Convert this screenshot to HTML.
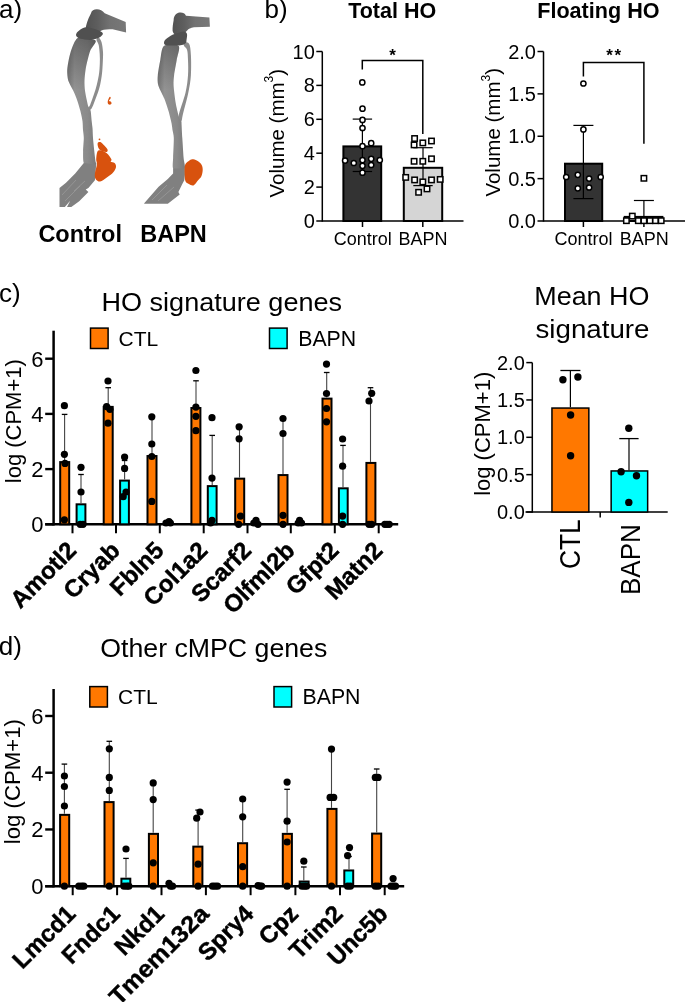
<!DOCTYPE html><html><head><meta charset="utf-8"><style>html,body{margin:0;padding:0;background:#fff;}svg{display:block;will-change:transform;}</style></head><body>
<svg width="685" height="1002" viewBox="0 0 685 1002" font-family='"Liberation Sans", sans-serif' fill="#000">
<rect width="685" height="1002" fill="#fff"/>
<text x="-1.0" y="18.3" font-size="26" text-anchor="start" font-weight="normal" >a)</text>
<defs>
<linearGradient id="tib" x1="0" y1="0" x2="1" y2="0"><stop offset="0" stop-color="#767676"/><stop offset="0.25" stop-color="#939393"/><stop offset="0.7" stop-color="#8a8a8a"/><stop offset="1" stop-color="#7a7a7a"/></linearGradient>
<linearGradient id="fem" x1="0" y1="0" x2="1" y2="0"><stop offset="0" stop-color="#525252"/><stop offset="0.3" stop-color="#5e5e5e"/><stop offset="0.6" stop-color="#727272"/><stop offset="1" stop-color="#787878"/></linearGradient>
<linearGradient id="tibv" gradientUnits="userSpaceOnUse" x1="0" y1="38" x2="0" y2="90"><stop offset="0" stop-color="#000" stop-opacity="0.28"/><stop offset="1" stop-color="#000" stop-opacity="0"/></linearGradient>
</defs>
<path d="M98.3,37.3 C99.1,37.6 100.7,39.5 101.5,42.0 C102.3,44.5 102.8,48.7 103.0,52.0 C103.2,55.3 103.0,58.1 102.8,62.0 C102.6,65.9 102.4,70.9 101.8,75.3 C101.2,79.7 100.5,84.0 99.2,88.6 C97.9,93.2 95.4,99.4 94.0,102.9 C92.6,106.4 91.7,108.7 90.7,109.5 C89.7,110.3 88.3,108.8 88.2,108.0 C88.1,107.2 89.0,107.7 90.3,104.5 C91.6,101.3 94.4,93.5 95.8,88.6 C97.2,83.7 98.1,79.4 98.8,75.3 C99.5,71.2 99.6,67.5 99.8,64.0 C100.0,60.5 99.9,57.2 99.7,54.0 C99.5,50.8 99.2,47.3 98.7,45.0 C98.2,42.7 96.6,41.3 96.5,40.0 C96.4,38.7 97.5,37.0 98.3,37.3 Z" fill="#8c8c8c"/>
<path d="M78.4,37.8 C75.3,38.8 73.3,45.0 72.0,48.0 C70.7,51.0 69.3,57.0 68.7,60.0 C68.1,63.0 67.3,67.5 67.2,70.2 C67.1,72.9 67.4,77.7 68.2,80.4 C69.0,83.1 72.1,88.0 73.3,90.7 C74.5,93.4 76.5,98.2 77.4,100.9 C78.3,103.6 79.7,108.4 80.4,111.1 C81.1,113.8 82.2,118.8 82.5,121.3 C82.8,123.8 82.8,127.8 83.0,130.0 C83.2,132.2 83.8,135.2 83.8,138.0 C83.8,140.8 83.1,148.0 83.1,151.3 C83.1,154.6 82.9,160.9 83.8,163.1 C84.7,165.3 88.3,167.8 90.0,168.0 C91.7,168.2 95.5,165.2 96.2,164.4 C96.9,163.6 95.9,163.5 95.6,161.8 C95.3,160.1 94.6,154.5 94.3,151.3 C94.0,148.1 93.2,141.2 93.0,138.1 C92.8,135.0 92.7,130.2 92.5,128.0 C92.3,125.8 91.9,123.6 91.7,121.3 C91.5,119.0 91.0,112.9 90.7,111.1 C90.4,109.3 89.5,109.0 89.1,108.0 C88.7,107.0 88.1,106.2 87.6,103.9 C87.1,101.6 85.4,93.8 85.0,90.7 C84.6,87.6 84.4,83.1 84.5,80.4 C84.6,77.7 85.1,72.9 85.5,70.2 C85.9,67.5 86.9,62.7 87.6,60.0 C88.3,57.3 89.4,52.6 90.5,50.0 C91.6,47.4 97.1,42.1 95.5,40.5 C93.9,38.9 81.5,36.8 78.4,37.8 Z" fill="url(#tib)"/>
<path d="M78.4,37.8 C75.3,38.8 73.3,45.0 72.0,48.0 C70.7,51.0 69.3,57.0 68.7,60.0 C68.1,63.0 67.3,67.5 67.2,70.2 C67.1,72.9 67.4,77.7 68.2,80.4 C69.0,83.1 72.1,88.0 73.3,90.7 C74.5,93.4 76.5,98.2 77.4,100.9 C78.3,103.6 79.7,108.4 80.4,111.1 C81.1,113.8 82.2,118.8 82.5,121.3 C82.8,123.8 82.8,127.8 83.0,130.0 C83.2,132.2 83.8,135.2 83.8,138.0 C83.8,140.8 83.1,148.0 83.1,151.3 C83.1,154.6 82.9,160.9 83.8,163.1 C84.7,165.3 88.3,167.8 90.0,168.0 C91.7,168.2 95.5,165.2 96.2,164.4 C96.9,163.6 95.9,163.5 95.6,161.8 C95.3,160.1 94.6,154.5 94.3,151.3 C94.0,148.1 93.2,141.2 93.0,138.1 C92.8,135.0 92.7,130.2 92.5,128.0 C92.3,125.8 91.9,123.6 91.7,121.3 C91.5,119.0 91.0,112.9 90.7,111.1 C90.4,109.3 89.5,109.0 89.1,108.0 C88.7,107.0 88.1,106.2 87.6,103.9 C87.1,101.6 85.4,93.8 85.0,90.7 C84.6,87.6 84.4,83.1 84.5,80.4 C84.6,77.7 85.1,72.9 85.5,70.2 C85.9,67.5 86.9,62.7 87.6,60.0 C88.3,57.3 89.4,52.6 90.5,50.0 C91.6,47.4 97.1,42.1 95.5,40.5 C93.9,38.9 81.5,36.8 78.4,37.8 Z" fill="url(#tibv)"/>
<path d="M83.8,163.1 L75.2,173.6 L66.0,182.8 L60.1,187.4 L59.5,188.1 L59.5,207.1 L71.3,207.1 L79.2,201.2 L88.4,192.0 L85.7,189.4 L88.4,188.1 L94.9,180.2 L96.2,164.4 Z" fill="#808080"/>
<path d="M64.2,207.8 L70.2,200.8 L66.6,207.8 Z" fill="#fff"/>
<path d="M62,195 L76,180 M65,201 L80,186 M74,191 L85,181" stroke="#999" stroke-width="0.8" fill="none"/>
<path d="M90.9,13.5 C91.5,10.5 94,9.2 96.8,9.2 C100,9.2 102.5,10.5 104.7,13.3 L125.7,22.1 L126.1,32.6 L112.6,29.3 C108,29.4 104,29.6 102.1,30.2 L99.5,31.5 C96,31.5 90,31 85.5,29.5 C86,25 87.5,20 90.9,13.5 Z" fill="url(#fem)"/>
<path d="M76.3,33.7 C76.9,32.5 78.8,30.7 80.4,29.6 C82.0,28.5 84.1,27.4 86.0,27.2 C87.9,27.0 89.8,27.6 92.0,28.2 C94.2,28.8 97.2,29.6 99.0,30.5 C100.8,31.4 102.9,32.5 102.9,33.7 C102.9,34.9 100.8,36.8 98.8,37.8 C96.8,38.8 93.8,39.7 90.7,39.9 C87.6,40.1 82.7,39.3 80.4,38.8 C78.1,38.3 77.6,37.6 76.9,36.8 C76.2,35.9 75.7,34.9 76.3,33.7 Z" fill="#505050"/>
<path d="M97.6,151.3 C98.5,149.9 100.0,150.3 101.5,150.6 C103.0,150.9 105.1,151.8 106.8,153.2 C108.5,154.6 110.8,157.8 111.4,159.2 C112.1,160.6 110.2,161.2 110.7,161.8 C111.2,162.5 113.7,162.2 114.6,163.1 C115.5,164.0 116.2,165.5 116.0,167.0 C115.8,168.5 114.8,170.5 113.3,172.3 C111.8,174.1 109.0,176.1 106.8,177.6 C104.6,179.1 102.1,181.3 100.2,181.5 C98.3,181.7 96.5,180.2 95.6,178.9 C94.7,177.6 94.7,176.0 94.9,173.6 C95.1,171.2 96.7,166.8 96.9,164.4 C97.1,162.0 96.1,161.4 96.2,159.2 C96.3,157.0 96.7,152.7 97.6,151.3 Z" fill="#d8520e"/>
<path d="M97.6,143.4 C97.8,142.3 99.2,141.9 100.2,142.1 C101.2,142.3 102.3,143.5 103.5,144.7 C104.7,145.9 106.9,148.1 107.4,149.3 C108.0,150.5 107.6,151.6 106.8,151.9 C106.0,152.2 104.1,151.8 102.8,151.3 C101.5,150.8 99.8,150.0 98.9,148.7 C98.0,147.4 97.4,144.5 97.6,143.4 Z" fill="#d8520e"/>
<path d="M184.0,42.5 C184.8,42.2 188.0,41.9 189.2,44.0 C190.3,46.1 190.6,49.8 190.9,55.0 C191.2,60.2 191.3,69.0 190.9,75.3 C190.5,81.6 189.6,86.4 188.3,92.7 C187.0,99.0 184.4,108.3 183.2,113.1 C182.0,117.9 182.1,120.8 181.3,121.3 C180.5,121.8 177.8,121.0 178.5,116.2 C179.2,111.4 183.9,99.5 185.5,92.7 C187.1,85.9 187.6,80.8 188.0,75.3 C188.4,69.8 188.2,64.2 188.0,60.0 C187.8,55.8 187.8,52.3 187.1,50.0 C186.4,47.7 184.6,47.2 184.1,46.0 C183.6,44.8 183.2,42.8 184.0,42.5 Z" fill="#8c8c8c"/>
<path d="M163.9,46.0 C161.4,47.9 161.1,56.1 160.3,60.0 C159.5,63.9 158.1,71.9 157.8,75.3 C157.5,78.7 157.4,82.4 158.3,85.5 C159.2,88.6 163.0,95.4 164.4,98.8 C165.8,102.2 167.5,107.8 168.5,111.1 C169.5,114.4 171.1,120.9 171.6,123.4 C172.1,125.9 172.2,128.0 172.5,130.0 C172.8,132.0 173.7,134.4 173.8,138.1 C173.9,141.8 173.2,153.8 173.1,157.8 C173.0,161.8 172.3,166.5 173.1,168.4 C173.9,170.3 177.4,172.0 179.0,172.0 C180.6,172.0 184.3,170.3 184.9,168.4 C185.5,166.5 183.9,161.8 183.6,157.8 C183.3,153.8 182.6,142.5 182.3,138.1 C182.0,133.7 181.7,127.2 181.6,125.0 C181.5,122.8 181.7,122.5 181.3,121.3 C180.9,120.1 179.4,118.7 178.7,116.2 C178.0,113.7 176.4,107.0 175.7,102.9 C175.0,98.8 173.8,89.2 173.6,85.5 C173.4,81.8 173.7,78.7 174.1,75.3 C174.5,71.9 176.1,63.9 176.7,60.0 C177.3,56.1 180.4,47.9 178.7,46.0 C177.0,44.1 166.4,44.1 163.9,46.0 Z" fill="url(#tib)"/>
<path d="M163.9,46.0 C161.4,47.9 161.1,56.1 160.3,60.0 C159.5,63.9 158.1,71.9 157.8,75.3 C157.5,78.7 157.4,82.4 158.3,85.5 C159.2,88.6 163.0,95.4 164.4,98.8 C165.8,102.2 167.5,107.8 168.5,111.1 C169.5,114.4 171.1,120.9 171.6,123.4 C172.1,125.9 172.2,128.0 172.5,130.0 C172.8,132.0 173.7,134.4 173.8,138.1 C173.9,141.8 173.2,153.8 173.1,157.8 C173.0,161.8 172.3,166.5 173.1,168.4 C173.9,170.3 177.4,172.0 179.0,172.0 C180.6,172.0 184.3,170.3 184.9,168.4 C185.5,166.5 183.9,161.8 183.6,157.8 C183.3,153.8 182.6,142.5 182.3,138.1 C182.0,133.7 181.7,127.2 181.6,125.0 C181.5,122.8 181.7,122.5 181.3,121.3 C180.9,120.1 179.4,118.7 178.7,116.2 C178.0,113.7 176.4,107.0 175.7,102.9 C175.0,98.8 173.8,89.2 173.6,85.5 C173.4,81.8 173.7,78.7 174.1,75.3 C174.5,71.9 176.1,63.9 176.7,60.0 C177.3,56.1 180.4,47.9 178.7,46.0 C177.0,44.1 166.4,44.1 163.9,46.0 Z" fill="url(#tibv)"/>
<path d="M173.1,168.4 L173.1,173.6 L167.8,178.9 L158.6,186.8 L144.2,203.2 L144.2,203.8 L167.8,203.8 L179.7,194.6 L178.4,192.0 L182.3,184.1 L184.3,180.2 L184.9,174.9 L184.9,168.4 Z" fill="#808080"/>
<path d="M152,200 L167,185 M158,201 L174,187" stroke="#999" stroke-width="0.8" fill="none"/>
<path d="M173.6,20.4 C173.6,17 175,15 176.5,13.8 C178.5,12.2 182,12.3 183.8,13.3 C185,14 185.6,15 185.9,15.8 L209.4,17.6 L209.9,26.8 L194,27.3 C190.5,28 188.5,29 187.9,29.8 L183.8,34 L175.7,35 C174,34 172.8,32.5 172.6,30.7 C172.5,27 173,23.5 173.6,20.4 Z" fill="url(#fem)"/>
<path d="M164.4,40.9 C164.9,39.6 167.1,38.4 168.5,37.3 C169.9,36.2 171.4,35.2 173.0,34.5 C174.6,33.8 176.2,33.5 178.0,33.0 C179.8,32.5 182.5,31.3 184.0,31.5 C185.5,31.7 186.6,32.6 187.0,34.0 C187.4,35.4 186.7,38.5 186.5,40.0 C186.3,41.5 186.7,42.1 185.9,42.9 C185.1,43.7 183.5,44.6 181.8,45.0 C180.1,45.4 178.4,45.5 175.7,45.5 C173.0,45.5 167.3,45.8 165.4,45.0 C163.5,44.2 163.9,42.2 164.4,40.9 Z" fill="#505050"/>
<path d="M184.9,165.7 C185.4,163.5 186.5,162.9 187.6,161.8 C188.7,160.8 190.0,159.6 191.5,159.4 C193.0,159.2 195.2,159.7 196.8,160.5 C198.5,161.3 200.4,162.9 201.4,164.4 C202.4,165.9 202.7,167.7 202.7,169.7 C202.7,171.7 202.2,174.4 201.4,176.2 C200.6,177.9 199.4,178.7 198.1,180.2 C196.8,181.7 195.0,184.8 193.5,185.4 C192.0,186.1 190.2,184.8 188.9,184.1 C187.6,183.4 186.3,183.0 185.6,181.5 C184.9,180.0 184.8,177.5 184.7,174.9 C184.6,172.3 184.4,167.9 184.9,165.7 Z" fill="#d8520e"/>
<circle cx="99.5" cy="139.3" r="0.9" fill="#d8520e"/>
<path d="M109.9,96.7 C111,96.8 110.9,98.3 110.1,99.2 C109.2,100 108.8,100.6 109.3,101.2 C110.5,101.2 111.6,101.8 111.6,103.3 C111.3,104.8 109.5,105 108.4,104.2 C107.3,103.2 107.6,101 108.3,99.6 C108.8,98.6 109,97.2 109.9,96.7 Z" fill="#d8520e"/>
<text x="38.4" y="242" font-size="23.5" text-anchor="start" font-weight="bold" >Control</text>
<text x="140.2" y="242" font-size="23.5" text-anchor="start" font-weight="bold" >BAPN</text>
<text x="264.6" y="18.4" font-size="26" text-anchor="start" font-weight="normal" >b)</text>
<line x1="322.3" y1="51.5" x2="322.3" y2="221.75" stroke="#000" stroke-width="1.5"/>
<line x1="322.3" y1="221.0" x2="463.5" y2="221.0" stroke="#000" stroke-width="1.5"/>
<line x1="316.3" y1="221.0" x2="322.3" y2="221.0" stroke="#000" stroke-width="1.5"/>
<text x="314.8" y="228.0" font-size="20" text-anchor="end" font-weight="normal" >0</text>
<line x1="316.3" y1="187.1" x2="322.3" y2="187.1" stroke="#000" stroke-width="1.5"/>
<text x="314.8" y="194.1" font-size="20" text-anchor="end" font-weight="normal" >2</text>
<line x1="316.3" y1="153.2" x2="322.3" y2="153.2" stroke="#000" stroke-width="1.5"/>
<text x="314.8" y="160.2" font-size="20" text-anchor="end" font-weight="normal" >4</text>
<line x1="316.3" y1="119.30000000000001" x2="322.3" y2="119.30000000000001" stroke="#000" stroke-width="1.5"/>
<text x="314.8" y="126.30000000000001" font-size="20" text-anchor="end" font-weight="normal" >6</text>
<line x1="316.3" y1="85.4" x2="322.3" y2="85.4" stroke="#000" stroke-width="1.5"/>
<text x="314.8" y="92.4" font-size="20" text-anchor="end" font-weight="normal" >8</text>
<line x1="316.3" y1="51.5" x2="322.3" y2="51.5" stroke="#000" stroke-width="1.5"/>
<text x="314.8" y="58.5" font-size="20" text-anchor="end" font-weight="normal" >10</text>
<line x1="362.5" y1="221.0" x2="362.5" y2="227.0" stroke="#000" stroke-width="1.5"/>
<line x1="422.8" y1="221.0" x2="422.8" y2="227.0" stroke="#000" stroke-width="1.5"/>
<text x="362.7" y="244.6" font-size="18" text-anchor="middle" font-weight="normal" >Control</text>
<text x="423.1" y="244.6" font-size="18" text-anchor="middle" font-weight="normal" >BAPN</text>
<rect x="343.4" y="146.4" width="37.80000000000001" height="74.6" fill="#333" stroke="#000" stroke-width="2"/>
<rect x="403.8" y="167.8" width="38.39999999999998" height="53.19999999999999" fill="#d5d5d5" stroke="#000" stroke-width="2"/>
<line x1="362.4" y1="119.1" x2="362.4" y2="171.5" stroke="#000" stroke-width="1.2"/>
<line x1="352.7" y1="119.1" x2="372.09999999999997" y2="119.1" stroke="#000" stroke-width="1.2"/>
<line x1="352.7" y1="171.5" x2="372.09999999999997" y2="171.5" stroke="#000" stroke-width="1.2"/>
<line x1="423" y1="147.7" x2="423" y2="185.6" stroke="#000" stroke-width="1.2"/>
<line x1="413.3" y1="147.7" x2="432.7" y2="147.7" stroke="#000" stroke-width="1.2"/>
<line x1="413.3" y1="185.6" x2="432.7" y2="185.6" stroke="#000" stroke-width="1.2"/>
<circle cx="362.3" cy="82.4" r="2.6" fill="#fff" stroke="#000" stroke-width="1.5"/>
<circle cx="362.5" cy="108.7" r="2.6" fill="#fff" stroke="#000" stroke-width="1.5"/>
<circle cx="362.5" cy="119.9" r="2.6" fill="#fff" stroke="#000" stroke-width="1.5"/>
<circle cx="362.5" cy="128" r="2.6" fill="#fff" stroke="#000" stroke-width="1.5"/>
<circle cx="371.2" cy="143.2" r="2.6" fill="#fff" stroke="#000" stroke-width="1.5"/>
<circle cx="362.5" cy="146.2" r="2.6" fill="#fff" stroke="#000" stroke-width="1.5"/>
<circle cx="345.1" cy="160.6" r="2.6" fill="#fff" stroke="#000" stroke-width="1.5"/>
<circle cx="353.8" cy="163" r="2.6" fill="#fff" stroke="#000" stroke-width="1.5"/>
<circle cx="362.5" cy="160.1" r="2.6" fill="#fff" stroke="#000" stroke-width="1.5"/>
<circle cx="371.2" cy="158.8" r="2.6" fill="#fff" stroke="#000" stroke-width="1.5"/>
<circle cx="379.8" cy="160.1" r="2.6" fill="#fff" stroke="#000" stroke-width="1.5"/>
<circle cx="362.5" cy="165.8" r="2.6" fill="#fff" stroke="#000" stroke-width="1.5"/>
<circle cx="371.2" cy="165" r="2.6" fill="#fff" stroke="#000" stroke-width="1.5"/>
<circle cx="362.5" cy="172.7" r="2.6" fill="#fff" stroke="#000" stroke-width="1.5"/>
<rect x="411.90000000000003" y="135.8" width="5.4" height="5.4" fill="#fff" stroke="#000" stroke-width="1.5"/>
<rect x="420.1" y="140.20000000000002" width="5.4" height="5.4" fill="#fff" stroke="#000" stroke-width="1.5"/>
<rect x="428.8" y="138.3" width="5.4" height="5.4" fill="#fff" stroke="#000" stroke-width="1.5"/>
<rect x="411.40000000000003" y="142.20000000000002" width="5.4" height="5.4" fill="#fff" stroke="#000" stroke-width="1.5"/>
<rect x="411.40000000000003" y="158.60000000000002" width="5.4" height="5.4" fill="#fff" stroke="#000" stroke-width="1.5"/>
<rect x="420.1" y="158.60000000000002" width="5.4" height="5.4" fill="#fff" stroke="#000" stroke-width="1.5"/>
<rect x="428.8" y="156.10000000000002" width="5.4" height="5.4" fill="#fff" stroke="#000" stroke-width="1.5"/>
<rect x="403.0" y="174.70000000000002" width="5.4" height="5.4" fill="#fff" stroke="#000" stroke-width="1.5"/>
<rect x="411.90000000000003" y="177.20000000000002" width="5.4" height="5.4" fill="#fff" stroke="#000" stroke-width="1.5"/>
<rect x="420.1" y="179.20000000000002" width="5.4" height="5.4" fill="#fff" stroke="#000" stroke-width="1.5"/>
<rect x="428.8" y="177.20000000000002" width="5.4" height="5.4" fill="#fff" stroke="#000" stroke-width="1.5"/>
<rect x="437.5" y="176.70000000000002" width="5.4" height="5.4" fill="#fff" stroke="#000" stroke-width="1.5"/>
<rect x="415.90000000000003" y="189.60000000000002" width="5.4" height="5.4" fill="#fff" stroke="#000" stroke-width="1.5"/>
<rect x="424.3" y="186.20000000000002" width="5.4" height="5.4" fill="#fff" stroke="#000" stroke-width="1.5"/>
<polyline points="362.3,69.5 362.3,60.4 422.8,60.4 422.8,134" fill="none" stroke="#000" stroke-width="1.5"/>
<text x="392.55" y="61.0" font-size="17" text-anchor="middle" font-weight="bold" >*</text>
<text x="348.2" y="17.5" font-size="21.5" text-anchor="start" font-weight="bold" >Total HO</text>
<text transform="translate(283.9,197.5) rotate(-90)" font-size="20.5">Volume (mm<tspan font-size="12" dy="-10.5">3</tspan><tspan dy="10.5">)</tspan></text>
<line x1="543.5" y1="51.5" x2="543.5" y2="221.75" stroke="#000" stroke-width="1.5"/>
<line x1="543.5" y1="221.0" x2="685" y2="221.0" stroke="#000" stroke-width="1.5"/>
<line x1="537.5" y1="221.0" x2="543.5" y2="221.0" stroke="#000" stroke-width="1.5"/>
<text x="536.0" y="228.0" font-size="20" text-anchor="end" font-weight="normal" >0.0</text>
<line x1="537.5" y1="178.625" x2="543.5" y2="178.625" stroke="#000" stroke-width="1.5"/>
<text x="536.0" y="185.625" font-size="20" text-anchor="end" font-weight="normal" >0.5</text>
<line x1="537.5" y1="136.25" x2="543.5" y2="136.25" stroke="#000" stroke-width="1.5"/>
<text x="536.0" y="143.25" font-size="20" text-anchor="end" font-weight="normal" >1.0</text>
<line x1="537.5" y1="93.875" x2="543.5" y2="93.875" stroke="#000" stroke-width="1.5"/>
<text x="536.0" y="100.875" font-size="20" text-anchor="end" font-weight="normal" >1.5</text>
<line x1="537.5" y1="51.5" x2="543.5" y2="51.5" stroke="#000" stroke-width="1.5"/>
<text x="536.0" y="58.5" font-size="20" text-anchor="end" font-weight="normal" >2.0</text>
<line x1="583.4" y1="221.0" x2="583.4" y2="227.0" stroke="#000" stroke-width="1.5"/>
<line x1="643.9" y1="221.0" x2="643.9" y2="227.0" stroke="#000" stroke-width="1.5"/>
<text x="583.6" y="244.6" font-size="18" text-anchor="middle" font-weight="normal" >Control</text>
<text x="644.1999999999999" y="244.6" font-size="18" text-anchor="middle" font-weight="normal" >BAPN</text>
<rect x="565" y="163.7" width="37.200000000000045" height="57.30000000000001" fill="#333" stroke="#000" stroke-width="2"/>
<rect x="624.7" y="216.9" width="37.69999999999993" height="4.099999999999994" fill="#d5d5d5" stroke="#000" stroke-width="2"/>
<line x1="583.4" y1="125.4" x2="583.4" y2="198.6" stroke="#000" stroke-width="1.2"/>
<line x1="573.4" y1="125.4" x2="593.4" y2="125.4" stroke="#000" stroke-width="1.2"/>
<line x1="573.4" y1="198.6" x2="593.4" y2="198.6" stroke="#000" stroke-width="1.2"/>
<line x1="643.9" y1="200.5" x2="643.9" y2="221" stroke="#000" stroke-width="1.2"/>
<line x1="633.9" y1="200.5" x2="653.9" y2="200.5" stroke="#000" stroke-width="1.2"/>
<line x1="633.9" y1="221" x2="653.9" y2="221" stroke="#000" stroke-width="1.2"/>
<circle cx="583.4" cy="83.5" r="2.6" fill="#fff" stroke="#000" stroke-width="1.5"/>
<circle cx="583.4" cy="129.4" r="2.6" fill="#fff" stroke="#000" stroke-width="1.5"/>
<circle cx="566.2" cy="177" r="2.6" fill="#fff" stroke="#000" stroke-width="1.5"/>
<circle cx="577.8" cy="174.8" r="2.6" fill="#fff" stroke="#000" stroke-width="1.5"/>
<circle cx="589.1" cy="178.6" r="2.6" fill="#fff" stroke="#000" stroke-width="1.5"/>
<circle cx="600.7" cy="177" r="2.6" fill="#fff" stroke="#000" stroke-width="1.5"/>
<circle cx="577.8" cy="188.3" r="2.6" fill="#fff" stroke="#000" stroke-width="1.5"/>
<circle cx="589.1" cy="187.5" r="2.6" fill="#fff" stroke="#000" stroke-width="1.5"/>
<rect x="641.1999999999999" y="175.60000000000002" width="5.4" height="5.4" fill="#fff" stroke="#000" stroke-width="1.5"/>
<rect x="623.6999999999999" y="218.0" width="5.4" height="5.4" fill="#fff" stroke="#000" stroke-width="1.5"/>
<rect x="629.5999999999999" y="213.4" width="5.4" height="5.4" fill="#fff" stroke="#000" stroke-width="1.5"/>
<rect x="635.5999999999999" y="218.0" width="5.4" height="5.4" fill="#fff" stroke="#000" stroke-width="1.5"/>
<rect x="641.1999999999999" y="218.0" width="5.4" height="5.4" fill="#fff" stroke="#000" stroke-width="1.5"/>
<rect x="647.1999999999999" y="218.0" width="5.4" height="5.4" fill="#fff" stroke="#000" stroke-width="1.5"/>
<rect x="652.8" y="218.0" width="5.4" height="5.4" fill="#fff" stroke="#000" stroke-width="1.5"/>
<rect x="658.5" y="218.0" width="5.4" height="5.4" fill="#fff" stroke="#000" stroke-width="1.5"/>
<polyline points="583.4,76.4 583.4,62.6 643.9,62.6 643.9,143.8" fill="none" stroke="#000" stroke-width="1.5"/>
<text x="609.4499999999999" y="61.4" font-size="17" text-anchor="middle" font-weight="bold" >*</text>
<text x="617.85" y="61.4" font-size="17" text-anchor="middle" font-weight="bold" >*</text>
<text x="537.2" y="17.5" font-size="21.6" text-anchor="start" font-weight="bold" >Floating HO</text>
<text transform="translate(500.2,196.6) rotate(-90)" font-size="20.5">Volume (mm<tspan font-size="12" dy="-10.5">3</tspan><tspan dy="10.5">)</tspan></text>
<text x="-1.0" y="301.5" font-size="26" text-anchor="start" font-weight="normal" >c)</text>
<line x1="53.6" y1="330.7" x2="53.6" y2="525.5" stroke="#000" stroke-width="2.5"/>
<line x1="45.2" y1="524.3" x2="398.2" y2="524.3" stroke="#000" stroke-width="2.5"/>
<line x1="45.2" y1="524.3" x2="53.6" y2="524.3" stroke="#000" stroke-width="2.4"/>
<text x="43.6" y="532.3" font-size="22" text-anchor="end" font-weight="normal" >0</text>
<line x1="45.2" y1="469.09999999999997" x2="53.6" y2="469.09999999999997" stroke="#000" stroke-width="2.4"/>
<text x="43.6" y="477.09999999999997" font-size="22" text-anchor="end" font-weight="normal" >2</text>
<line x1="45.2" y1="413.9" x2="53.6" y2="413.9" stroke="#000" stroke-width="2.4"/>
<text x="43.6" y="421.9" font-size="22" text-anchor="end" font-weight="normal" >4</text>
<line x1="45.2" y1="358.69999999999993" x2="53.6" y2="358.69999999999993" stroke="#000" stroke-width="2.4"/>
<text x="43.6" y="366.69999999999993" font-size="22" text-anchor="end" font-weight="normal" >6</text>
<rect x="60.2" y="462.09599999999995" width="9.0" height="62.20400000000001" fill="#ff7800" stroke="#000" stroke-width="2.0"/>
<rect x="76.6" y="504.32399999999996" width="8.800000000000011" height="19.976" fill="#00ffff" stroke="#000" stroke-width="2.0"/>
<rect x="103.7" y="406.89599999999996" width="9.0" height="117.404" fill="#ff7800" stroke="#000" stroke-width="2.0"/>
<rect x="120.1" y="480.58799999999997" width="8.800000000000011" height="43.71199999999999" fill="#00ffff" stroke="#000" stroke-width="2.0"/>
<rect x="147.5" y="456.02399999999994" width="9.0" height="68.27600000000001" fill="#ff7800" stroke="#000" stroke-width="2.0"/>
<rect x="191.39999999999998" y="407.99999999999994" width="9.0" height="116.30000000000001" fill="#ff7800" stroke="#000" stroke-width="2.0"/>
<rect x="207.79999999999998" y="486.10799999999995" width="8.800000000000011" height="38.19200000000001" fill="#00ffff" stroke="#000" stroke-width="2.0"/>
<rect x="235.2" y="478.65599999999995" width="9.0" height="45.644000000000005" fill="#ff7800" stroke="#000" stroke-width="2.0"/>
<rect x="278.5" y="475.0679999999999" width="9.0" height="49.23200000000003" fill="#ff7800" stroke="#000" stroke-width="2.0"/>
<rect x="322.5" y="398.616" width="9.0" height="125.68399999999997" fill="#ff7800" stroke="#000" stroke-width="2.0"/>
<rect x="338.90000000000003" y="488.316" width="8.799999999999955" height="35.98399999999998" fill="#00ffff" stroke="#000" stroke-width="2.0"/>
<rect x="366.4" y="462.924" width="9.0" height="61.375999999999976" fill="#ff7800" stroke="#000" stroke-width="2.0"/>
<line x1="64.6" y1="414.4" x2="64.6" y2="461.09599999999995" stroke="#444" stroke-width="1.1"/>
<line x1="61.8" y1="414.4" x2="67.39999999999999" y2="414.4" stroke="#000" stroke-width="1.3"/>
<line x1="81" y1="474.5" x2="81" y2="503.32399999999996" stroke="#444" stroke-width="1.1"/>
<line x1="78.2" y1="474.5" x2="83.8" y2="474.5" stroke="#000" stroke-width="1.3"/>
<line x1="108.2" y1="387.7" x2="108.2" y2="405.89599999999996" stroke="#444" stroke-width="1.1"/>
<line x1="105.4" y1="387.7" x2="111.0" y2="387.7" stroke="#000" stroke-width="1.3"/>
<line x1="124.6" y1="460.5" x2="124.6" y2="479.58799999999997" stroke="#444" stroke-width="1.1"/>
<line x1="121.8" y1="460.5" x2="127.39999999999999" y2="460.5" stroke="#000" stroke-width="1.3"/>
<line x1="152" y1="416.8" x2="152" y2="455.02399999999994" stroke="#444" stroke-width="1.1"/>
<line x1="149.2" y1="416.8" x2="154.8" y2="416.8" stroke="#000" stroke-width="1.3"/>
<line x1="196" y1="380.8" x2="196" y2="406.99999999999994" stroke="#444" stroke-width="1.1"/>
<line x1="193.2" y1="380.8" x2="198.8" y2="380.8" stroke="#000" stroke-width="1.3"/>
<line x1="212.2" y1="435.4" x2="212.2" y2="485.10799999999995" stroke="#444" stroke-width="1.1"/>
<line x1="209.39999999999998" y1="435.4" x2="215.0" y2="435.4" stroke="#000" stroke-width="1.3"/>
<line x1="239.5" y1="426.8" x2="239.5" y2="477.65599999999995" stroke="#444" stroke-width="1.1"/>
<line x1="236.7" y1="426.8" x2="242.3" y2="426.8" stroke="#000" stroke-width="1.3"/>
<line x1="283" y1="418.5" x2="283" y2="474.0679999999999" stroke="#444" stroke-width="1.1"/>
<line x1="280.2" y1="418.5" x2="285.8" y2="418.5" stroke="#000" stroke-width="1.3"/>
<line x1="326.7" y1="372.5" x2="326.7" y2="397.616" stroke="#444" stroke-width="1.1"/>
<line x1="323.9" y1="372.5" x2="329.5" y2="372.5" stroke="#000" stroke-width="1.3"/>
<line x1="343" y1="445.4" x2="343" y2="487.316" stroke="#444" stroke-width="1.1"/>
<line x1="340.2" y1="445.4" x2="345.8" y2="445.4" stroke="#000" stroke-width="1.3"/>
<line x1="370.5" y1="387.7" x2="370.5" y2="461.924" stroke="#444" stroke-width="1.1"/>
<line x1="367.7" y1="387.7" x2="373.3" y2="387.7" stroke="#000" stroke-width="1.3"/>
<circle cx="64.4" cy="405.7" r="3.6" fill="#000"/>
<circle cx="64.4" cy="454.3" r="3.6" fill="#000"/>
<circle cx="65" cy="463.4" r="3.6" fill="#000"/>
<circle cx="64.4" cy="519.8" r="3.6" fill="#000"/>
<circle cx="81" cy="467.3" r="3.6" fill="#000"/>
<circle cx="81" cy="492" r="3.6" fill="#000"/>
<circle cx="80.2" cy="524.3" r="3.6" fill="#000"/>
<circle cx="83" cy="524.3" r="3.6" fill="#000"/>
<circle cx="108" cy="381" r="3.6" fill="#000"/>
<circle cx="106.6" cy="406.6" r="3.6" fill="#000"/>
<circle cx="109.9" cy="409.3" r="3.6" fill="#000"/>
<circle cx="108" cy="423.2" r="3.6" fill="#000"/>
<circle cx="124.6" cy="457" r="3.6" fill="#000"/>
<circle cx="124.6" cy="468.4" r="3.6" fill="#000"/>
<circle cx="126" cy="492" r="3.6" fill="#000"/>
<circle cx="123.2" cy="496.7" r="3.6" fill="#000"/>
<circle cx="151.8" cy="416.8" r="3.6" fill="#000"/>
<circle cx="151.8" cy="444" r="3.6" fill="#000"/>
<circle cx="151.8" cy="456.5" r="3.6" fill="#000"/>
<circle cx="151.8" cy="501.4" r="3.6" fill="#000"/>
<circle cx="166" cy="523" r="3.6" fill="#000"/>
<circle cx="169" cy="521.7" r="3.6" fill="#000"/>
<circle cx="170.4" cy="523" r="3.6" fill="#000"/>
<circle cx="195.9" cy="370.5" r="3.6" fill="#000"/>
<circle cx="195.9" cy="407.1" r="3.6" fill="#000"/>
<circle cx="195.9" cy="416.3" r="3.6" fill="#000"/>
<circle cx="195.9" cy="430.7" r="3.6" fill="#000"/>
<circle cx="212" cy="417.7" r="3.6" fill="#000"/>
<circle cx="212" cy="478.1" r="3.6" fill="#000"/>
<circle cx="212" cy="520.3" r="3.6" fill="#000"/>
<circle cx="210.6" cy="523" r="3.6" fill="#000"/>
<circle cx="239.1" cy="426.8" r="3.6" fill="#000"/>
<circle cx="239.1" cy="438.8" r="3.6" fill="#000"/>
<circle cx="240.5" cy="516.1" r="3.6" fill="#000"/>
<circle cx="238.6" cy="524.3" r="3.6" fill="#000"/>
<circle cx="253.8" cy="523" r="3.6" fill="#000"/>
<circle cx="256" cy="520.3" r="3.6" fill="#000"/>
<circle cx="258" cy="524.3" r="3.6" fill="#000"/>
<circle cx="283" cy="418.5" r="3.6" fill="#000"/>
<circle cx="283" cy="433.5" r="3.6" fill="#000"/>
<circle cx="283" cy="515.3" r="3.6" fill="#000"/>
<circle cx="283" cy="524.3" r="3.6" fill="#000"/>
<circle cx="298.2" cy="523" r="3.6" fill="#000"/>
<circle cx="299.6" cy="520.3" r="3.6" fill="#000"/>
<circle cx="301.5" cy="523" r="3.6" fill="#000"/>
<circle cx="326.5" cy="364.1" r="3.6" fill="#000"/>
<circle cx="326.5" cy="393.5" r="3.6" fill="#000"/>
<circle cx="326.5" cy="408.5" r="3.6" fill="#000"/>
<circle cx="326.5" cy="421.8" r="3.6" fill="#000"/>
<circle cx="342.6" cy="439" r="3.6" fill="#000"/>
<circle cx="342.6" cy="466.2" r="3.6" fill="#000"/>
<circle cx="342.6" cy="516.1" r="3.6" fill="#000"/>
<circle cx="342.6" cy="524.3" r="3.6" fill="#000"/>
<circle cx="369" cy="401" r="3.6" fill="#000"/>
<circle cx="371.7" cy="393.3" r="3.6" fill="#000"/>
<circle cx="369" cy="524.3" r="3.6" fill="#000"/>
<circle cx="371.7" cy="524.3" r="3.6" fill="#000"/>
<circle cx="384.8" cy="524.3" r="3.6" fill="#000"/>
<circle cx="387" cy="524.3" r="3.6" fill="#000"/>
<circle cx="389.2" cy="524.3" r="3.6" fill="#000"/>
<line x1="72.5" y1="524.3" x2="72.5" y2="533.3" stroke="#000" stroke-width="2"/>
<line x1="116.0" y1="524.3" x2="116.0" y2="533.3" stroke="#000" stroke-width="2"/>
<line x1="159.8" y1="524.3" x2="159.8" y2="533.3" stroke="#000" stroke-width="2"/>
<line x1="203.7" y1="524.3" x2="203.7" y2="533.3" stroke="#000" stroke-width="2"/>
<line x1="247.5" y1="524.3" x2="247.5" y2="533.3" stroke="#000" stroke-width="2"/>
<line x1="290.8" y1="524.3" x2="290.8" y2="533.3" stroke="#000" stroke-width="2"/>
<line x1="334.8" y1="524.3" x2="334.8" y2="533.3" stroke="#000" stroke-width="2"/>
<line x1="378.7" y1="524.3" x2="378.7" y2="533.3" stroke="#000" stroke-width="2"/>
<text transform="translate(77.8,551.9) rotate(-45)" font-size="24" font-weight="bold" text-anchor="end" stroke="#000" stroke-width="0.45">Amotl2</text>
<text transform="translate(121.3,551.9) rotate(-45)" font-size="24" font-weight="bold" text-anchor="end" stroke="#000" stroke-width="0.45">Cryab</text>
<text transform="translate(165.10000000000002,551.9) rotate(-45)" font-size="24" font-weight="bold" text-anchor="end" stroke="#000" stroke-width="0.45">Fbln5</text>
<text transform="translate(209.0,551.9) rotate(-45)" font-size="24" font-weight="bold" text-anchor="end" stroke="#000" stroke-width="0.45">Col1a2</text>
<text transform="translate(252.8,551.9) rotate(-45)" font-size="24" font-weight="bold" text-anchor="end" stroke="#000" stroke-width="0.45">Scarf2</text>
<text transform="translate(296.1,551.9) rotate(-45)" font-size="24" font-weight="bold" text-anchor="end" stroke="#000" stroke-width="0.45">Olfml2b</text>
<text transform="translate(340.1,551.9) rotate(-45)" font-size="24" font-weight="bold" text-anchor="end" stroke="#000" stroke-width="0.45">Gfpt2</text>
<text transform="translate(384.0,551.9) rotate(-45)" font-size="24" font-weight="bold" text-anchor="end" stroke="#000" stroke-width="0.45">Matn2</text>
<text transform="translate(101.5,310.8) scale(1.041,1.0)" font-size="26" text-anchor="start" font-weight="normal" >HO signature genes</text>
<rect x="90.5" y="328.1" width="17.6" height="20.4" fill="#ff7800" stroke="#000" stroke-width="1.5"/>
<text x="118.5" y="345.6" font-size="21" text-anchor="start" font-weight="normal" >CTL</text>
<rect x="269.5" y="328.1" width="17.6" height="20.4" fill="#00ffff" stroke="#000" stroke-width="1.5"/>
<text x="298.2" y="345.6" font-size="21.3" text-anchor="start" font-weight="normal" >BAPN</text>
<text transform="translate(21,421.2) rotate(-90)" font-size="22" text-anchor="middle">log (CPM+1)</text>
<text transform="translate(591.85,305.1) scale(1.036,1.0)" font-size="26" text-anchor="middle" font-weight="normal" >Mean HO</text>
<text transform="translate(592.45,338.2) scale(1.066,1.0)" font-size="26" text-anchor="middle" font-weight="normal" >signature</text>
<line x1="532.3" y1="362.6" x2="532.3" y2="512.7" stroke="#000" stroke-width="1.5"/>
<line x1="525.5" y1="512.0" x2="667.7" y2="512.0" stroke="#000" stroke-width="1.5"/>
<line x1="526.3" y1="512.0" x2="532.3" y2="512.0" stroke="#000" stroke-width="1.5"/>
<text x="524.8" y="519.1" font-size="20" text-anchor="end" font-weight="normal" >0.0</text>
<line x1="526.3" y1="474.65" x2="532.3" y2="474.65" stroke="#000" stroke-width="1.5"/>
<text x="524.8" y="481.75" font-size="20" text-anchor="end" font-weight="normal" >0.5</text>
<line x1="526.3" y1="437.3" x2="532.3" y2="437.3" stroke="#000" stroke-width="1.5"/>
<text x="524.8" y="444.40000000000003" font-size="20" text-anchor="end" font-weight="normal" >1.0</text>
<line x1="526.3" y1="399.95" x2="532.3" y2="399.95" stroke="#000" stroke-width="1.5"/>
<text x="524.8" y="407.05" font-size="20" text-anchor="end" font-weight="normal" >1.5</text>
<line x1="526.3" y1="362.6" x2="532.3" y2="362.6" stroke="#000" stroke-width="1.5"/>
<text x="524.8" y="369.70000000000005" font-size="20" text-anchor="end" font-weight="normal" >2.0</text>
<line x1="600.2" y1="512.0" x2="600.2" y2="517.5" stroke="#000" stroke-width="1.5"/>
<rect x="551.95" y="408.05" width="36.9" height="103.94999999999999" fill="#ff7800" stroke="#000" stroke-width="1.5"/>
<rect x="611.15" y="470.95" width="36.5" height="41.05000000000001" fill="#00ffff" stroke="#000" stroke-width="1.5"/>
<line x1="570.4" y1="370.5" x2="570.4" y2="407.3" stroke="#000" stroke-width="1.2"/>
<line x1="560.4" y1="370.5" x2="580.4" y2="370.5" stroke="#000" stroke-width="1.3"/>
<line x1="629" y1="438.6" x2="629" y2="470.2" stroke="#000" stroke-width="1.2"/>
<line x1="619.3" y1="438.6" x2="638.6" y2="438.6" stroke="#000" stroke-width="1.3"/>
<circle cx="562.9" cy="379.7" r="3.7" fill="#000"/>
<circle cx="577.9" cy="377" r="3.7" fill="#000"/>
<circle cx="570.6" cy="415" r="3.7" fill="#000"/>
<circle cx="570.6" cy="455.8" r="3.7" fill="#000"/>
<circle cx="628.8" cy="428.2" r="3.7" fill="#000"/>
<circle cx="621.1" cy="471.7" r="3.7" fill="#000"/>
<circle cx="636.5" cy="475.7" r="3.7" fill="#000"/>
<circle cx="628.8" cy="502.4" r="3.7" fill="#000"/>
<text transform="translate(489.5,433.8) rotate(-90)" font-size="22" text-anchor="middle">log (CPM+1)</text>
<text transform="translate(580.0,519.2) rotate(-90) scale(1.0,1.1)" font-size="26.4" text-anchor="end" font-weight="normal" >CTL</text>
<text transform="translate(639.8,524.2) rotate(-90) scale(1.0,1.05)" font-size="26" text-anchor="end" font-weight="normal" >BAPN</text>
<text x="-1.2" y="655.3" font-size="26" text-anchor="start" font-weight="normal" >d)</text>
<line x1="53.6" y1="689" x2="53.6" y2="887.4000000000001" stroke="#000" stroke-width="2.5"/>
<line x1="45.2" y1="886.2" x2="404.2" y2="886.2" stroke="#000" stroke-width="2.5"/>
<line x1="45.2" y1="886.2" x2="53.6" y2="886.2" stroke="#000" stroke-width="2.4"/>
<text x="43.6" y="894.2" font-size="22" text-anchor="end" font-weight="normal" >0</text>
<line x1="45.2" y1="829.46" x2="53.6" y2="829.46" stroke="#000" stroke-width="2.4"/>
<text x="43.6" y="837.46" font-size="22" text-anchor="end" font-weight="normal" >2</text>
<line x1="45.2" y1="772.72" x2="53.6" y2="772.72" stroke="#000" stroke-width="2.4"/>
<text x="43.6" y="780.72" font-size="22" text-anchor="end" font-weight="normal" >4</text>
<line x1="45.2" y1="715.98" x2="53.6" y2="715.98" stroke="#000" stroke-width="2.4"/>
<text x="43.6" y="723.98" font-size="22" text-anchor="end" font-weight="normal" >6</text>
<rect x="60.1" y="814.8565000000001" width="9.100000000000001" height="71.34349999999995" fill="#ff7800" stroke="#000" stroke-width="2.0"/>
<rect x="104.5" y="802.09" width="9.099999999999994" height="84.11000000000001" fill="#ff7800" stroke="#000" stroke-width="2.0"/>
<rect x="121.39999999999999" y="878.6890000000001" width="8.899999999999991" height="7.510999999999967" fill="#00ffff" stroke="#000" stroke-width="2.0"/>
<rect x="148.9" y="833.8644" width="9.099999999999994" height="52.3356" fill="#ff7800" stroke="#000" stroke-width="2.0"/>
<rect x="193.3" y="846.6309" width="9.099999999999994" height="39.56910000000005" fill="#ff7800" stroke="#000" stroke-width="2.0"/>
<rect x="238.0" y="843.2265" width="9.099999999999994" height="42.97350000000006" fill="#ff7800" stroke="#000" stroke-width="2.0"/>
<rect x="282.79999999999995" y="833.8644" width="9.100000000000023" height="52.3356" fill="#ff7800" stroke="#000" stroke-width="2.0"/>
<rect x="299.7" y="881.5260000000001" width="8.899999999999977" height="4.673999999999978" fill="#00ffff" stroke="#000" stroke-width="2.0"/>
<rect x="327.4" y="808.8988" width="9.100000000000023" height="77.3012" fill="#ff7800" stroke="#000" stroke-width="2.0"/>
<rect x="344.3" y="870.4617000000001" width="8.899999999999977" height="15.738299999999981" fill="#00ffff" stroke="#000" stroke-width="2.0"/>
<rect x="372.09999999999997" y="833.5807000000001" width="9.100000000000023" height="52.61929999999995" fill="#ff7800" stroke="#000" stroke-width="2.0"/>
<line x1="64.4" y1="764.1" x2="64.4" y2="813.8565000000001" stroke="#444" stroke-width="1.1"/>
<line x1="61.60000000000001" y1="764.1" x2="67.2" y2="764.1" stroke="#000" stroke-width="1.3"/>
<line x1="109.3" y1="741.3" x2="109.3" y2="801.09" stroke="#444" stroke-width="1.1"/>
<line x1="106.5" y1="741.3" x2="112.1" y2="741.3" stroke="#000" stroke-width="1.3"/>
<line x1="126" y1="858.4" x2="126" y2="877.6890000000001" stroke="#444" stroke-width="1.1"/>
<line x1="123.2" y1="858.4" x2="128.8" y2="858.4" stroke="#000" stroke-width="1.3"/>
<line x1="153.2" y1="783" x2="153.2" y2="832.8644" stroke="#444" stroke-width="1.1"/>
<line x1="150.39999999999998" y1="783" x2="156.0" y2="783" stroke="#000" stroke-width="1.3"/>
<line x1="198.1" y1="810.1" x2="198.1" y2="845.6309" stroke="#444" stroke-width="1.1"/>
<line x1="195.29999999999998" y1="810.1" x2="200.9" y2="810.1" stroke="#000" stroke-width="1.3"/>
<line x1="242.7" y1="799" x2="242.7" y2="842.2265" stroke="#444" stroke-width="1.1"/>
<line x1="239.89999999999998" y1="799" x2="245.5" y2="799" stroke="#000" stroke-width="1.3"/>
<line x1="287.1" y1="789.3" x2="287.1" y2="832.8644" stroke="#444" stroke-width="1.1"/>
<line x1="284.3" y1="789.3" x2="289.90000000000003" y2="789.3" stroke="#000" stroke-width="1.3"/>
<line x1="303.8" y1="867" x2="303.8" y2="880.5260000000001" stroke="#444" stroke-width="1.1"/>
<line x1="301.0" y1="867" x2="306.6" y2="867" stroke="#000" stroke-width="1.3"/>
<line x1="331.5" y1="749" x2="331.5" y2="807.8988" stroke="#444" stroke-width="1.1"/>
<line x1="328.7" y1="749" x2="334.3" y2="749" stroke="#000" stroke-width="1.3"/>
<line x1="349" y1="856.5" x2="349" y2="869.4617000000001" stroke="#444" stroke-width="1.1"/>
<line x1="346.2" y1="856.5" x2="351.8" y2="856.5" stroke="#000" stroke-width="1.3"/>
<line x1="376.7" y1="769" x2="376.7" y2="832.5807000000001" stroke="#444" stroke-width="1.1"/>
<line x1="373.9" y1="769" x2="379.5" y2="769" stroke="#000" stroke-width="1.3"/>
<circle cx="64.4" cy="776" r="3.6" fill="#000"/>
<circle cx="64.4" cy="786.5" r="3.6" fill="#000"/>
<circle cx="64.4" cy="806" r="3.6" fill="#000"/>
<circle cx="64.4" cy="886.2" r="3.6" fill="#000"/>
<circle cx="78.8" cy="886.2" r="3.6" fill="#000"/>
<circle cx="81.6" cy="886.2" r="3.6" fill="#000"/>
<circle cx="83.8" cy="886.2" r="3.6" fill="#000"/>
<circle cx="109.3" cy="748.8" r="3.6" fill="#000"/>
<circle cx="109.3" cy="777.4" r="3.6" fill="#000"/>
<circle cx="109.3" cy="790.4" r="3.6" fill="#000"/>
<circle cx="109.3" cy="886.2" r="3.6" fill="#000"/>
<circle cx="126" cy="849" r="3.6" fill="#000"/>
<circle cx="124" cy="886.2" r="3.6" fill="#000"/>
<circle cx="126.8" cy="886.2" r="3.6" fill="#000"/>
<circle cx="128.8" cy="886.2" r="3.6" fill="#000"/>
<circle cx="153.2" cy="782.9" r="3.6" fill="#000"/>
<circle cx="153.2" cy="799.6" r="3.6" fill="#000"/>
<circle cx="153.2" cy="862.8" r="3.6" fill="#000"/>
<circle cx="153.2" cy="886.2" r="3.6" fill="#000"/>
<circle cx="169" cy="883.3" r="3.6" fill="#000"/>
<circle cx="170.5" cy="886.2" r="3.6" fill="#000"/>
<circle cx="172.5" cy="886.2" r="3.6" fill="#000"/>
<circle cx="196.7" cy="818.2" r="3.6" fill="#000"/>
<circle cx="200" cy="812" r="3.6" fill="#000"/>
<circle cx="198.1" cy="864.2" r="3.6" fill="#000"/>
<circle cx="198.1" cy="886.2" r="3.6" fill="#000"/>
<circle cx="212.5" cy="886.2" r="3.6" fill="#000"/>
<circle cx="215" cy="886.2" r="3.6" fill="#000"/>
<circle cx="217.5" cy="886.2" r="3.6" fill="#000"/>
<circle cx="242.7" cy="799" r="3.6" fill="#000"/>
<circle cx="242.7" cy="816.8" r="3.6" fill="#000"/>
<circle cx="242.7" cy="866.7" r="3.6" fill="#000"/>
<circle cx="242.7" cy="886.2" r="3.6" fill="#000"/>
<circle cx="258" cy="885.6" r="3.6" fill="#000"/>
<circle cx="260" cy="886.2" r="3.6" fill="#000"/>
<circle cx="261.6" cy="886.2" r="3.6" fill="#000"/>
<circle cx="287.1" cy="782.1" r="3.6" fill="#000"/>
<circle cx="287.1" cy="821.2" r="3.6" fill="#000"/>
<circle cx="287.1" cy="842" r="3.6" fill="#000"/>
<circle cx="287.1" cy="886.2" r="3.6" fill="#000"/>
<circle cx="303.8" cy="861.2" r="3.6" fill="#000"/>
<circle cx="302" cy="886.2" r="3.6" fill="#000"/>
<circle cx="304.5" cy="886.2" r="3.6" fill="#000"/>
<circle cx="306.5" cy="886.2" r="3.6" fill="#000"/>
<circle cx="331.5" cy="749.1" r="3.6" fill="#000"/>
<circle cx="330.1" cy="797.4" r="3.6" fill="#000"/>
<circle cx="333.7" cy="797.4" r="3.6" fill="#000"/>
<circle cx="331.5" cy="886.2" r="3.6" fill="#000"/>
<circle cx="349.5" cy="847.6" r="3.6" fill="#000"/>
<circle cx="347.6" cy="855.6" r="3.6" fill="#000"/>
<circle cx="347.6" cy="886.2" r="3.6" fill="#000"/>
<circle cx="350.4" cy="886.2" r="3.6" fill="#000"/>
<circle cx="375.3" cy="777.4" r="3.6" fill="#000"/>
<circle cx="378.1" cy="777.4" r="3.6" fill="#000"/>
<circle cx="375.3" cy="886.2" r="3.6" fill="#000"/>
<circle cx="378.1" cy="886.2" r="3.6" fill="#000"/>
<circle cx="393.1" cy="878.6" r="3.6" fill="#000"/>
<circle cx="391" cy="886.2" r="3.6" fill="#000"/>
<circle cx="393.5" cy="886.2" r="3.6" fill="#000"/>
<circle cx="395.5" cy="886.2" r="3.6" fill="#000"/>
<line x1="72.7" y1="886.2" x2="72.7" y2="895.2" stroke="#000" stroke-width="2"/>
<line x1="117.1" y1="886.2" x2="117.1" y2="895.2" stroke="#000" stroke-width="2"/>
<line x1="161.5" y1="886.2" x2="161.5" y2="895.2" stroke="#000" stroke-width="2"/>
<line x1="205.9" y1="886.2" x2="205.9" y2="895.2" stroke="#000" stroke-width="2"/>
<line x1="250.6" y1="886.2" x2="250.6" y2="895.2" stroke="#000" stroke-width="2"/>
<line x1="295.4" y1="886.2" x2="295.4" y2="895.2" stroke="#000" stroke-width="2"/>
<line x1="340.0" y1="886.2" x2="340.0" y2="895.2" stroke="#000" stroke-width="2"/>
<line x1="384.7" y1="886.2" x2="384.7" y2="895.2" stroke="#000" stroke-width="2"/>
<text transform="translate(77.0,915.2) rotate(-45)" font-size="24" font-weight="bold" text-anchor="end" stroke="#000" stroke-width="0.45">Lmcd1</text>
<text transform="translate(121.39999999999999,915.2) rotate(-45)" font-size="24" font-weight="bold" text-anchor="end" stroke="#000" stroke-width="0.45">Fndc1</text>
<text transform="translate(165.8,915.2) rotate(-45)" font-size="24" font-weight="bold" text-anchor="end" stroke="#000" stroke-width="0.45">Nkd1</text>
<text transform="translate(210.20000000000002,915.2) rotate(-45)" font-size="24" font-weight="bold" text-anchor="end" stroke="#000" stroke-width="0.45" textLength="129" lengthAdjust="spacingAndGlyphs">Tmem132a</text>
<text transform="translate(254.9,915.2) rotate(-45)" font-size="24" font-weight="bold" text-anchor="end" stroke="#000" stroke-width="0.45">Spry4</text>
<text transform="translate(299.7,915.2) rotate(-45)" font-size="24" font-weight="bold" text-anchor="end" stroke="#000" stroke-width="0.45">Cpz</text>
<text transform="translate(344.3,915.2) rotate(-45)" font-size="24" font-weight="bold" text-anchor="end" stroke="#000" stroke-width="0.45">Trim2</text>
<text transform="translate(389.0,915.2) rotate(-45)" font-size="24" font-weight="bold" text-anchor="end" stroke="#000" stroke-width="0.45">Unc5b</text>
<text transform="translate(100.3,656.7) scale(1.027,1.0)" font-size="26" text-anchor="start" font-weight="normal" >Other cMPC genes</text>
<rect x="89.8" y="686.6" width="17.6" height="20.4" fill="#ff7800" stroke="#000" stroke-width="1.5"/>
<text x="118.0" y="704.1" font-size="21" text-anchor="start" font-weight="normal" >CTL</text>
<rect x="274.0" y="686.6" width="17.6" height="20.4" fill="#00ffff" stroke="#000" stroke-width="1.5"/>
<text x="302.5" y="704.1" font-size="21.3" text-anchor="start" font-weight="normal" >BAPN</text>
<text transform="translate(20.3,781.7) rotate(-90)" font-size="22.2" text-anchor="middle">log (CPM+1)</text>
</svg></body></html>
